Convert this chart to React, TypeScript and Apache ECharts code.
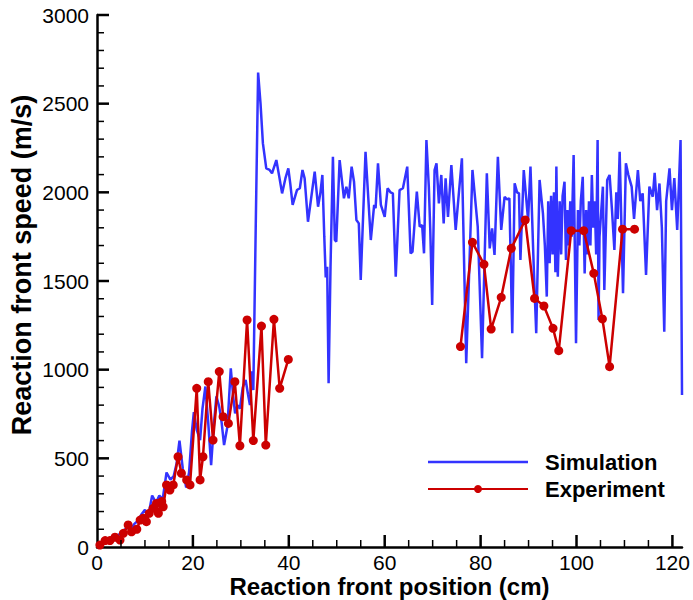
import React, { useEffect, useRef } from "react";
import * as echarts from "echarts";

const simX = [
  0.3, 1.0, 2.0, 3.0, 3.8, 4.6, 5.5, 6.3, 7.0, 7.8, 8.6, 9.3, 10.0, 10.7, 11.5, 12.3, 13.0, 13.7, 14.5, 15.3,
  16.0, 16.6, 17.2, 17.9, 18.6, 19.2, 19.8, 20.2, 20.8, 21.5, 22.0, 22.6, 23.2, 23.8, 24.4, 24.9, 25.5, 26.0,
  26.5, 27.2, 27.9, 28.4, 28.8, 29.3, 29.8, 30.4, 31.0, 31.5, 31.9, 32.3, 32.6, 33.1, 33.6, 34.1, 34.6, 35.3,
  36.0, 36.5, 37.4, 38.0, 38.6, 39.3, 39.9, 40.3, 40.8, 41.7, 42.3, 42.85, 43.3, 44.0, 44.7, 45.4, 46.1, 46.6,
  47.0, 47.4, 47.7, 48.0, 48.3, 48.7, 49.2, 49.6, 49.9, 50.6, 51.5, 52.0, 52.5, 53.1, 53.6, 54.1, 54.6, 55.0,
  56.0, 57.1, 57.8, 58.1, 58.6, 59.2, 60.0, 60.6, 61.2, 61.7, 62.3, 63.1, 63.8, 64.7, 65.4, 65.8, 66.7, 67.3,
  67.8, 68.2, 68.7, 69.2, 69.5, 69.9, 70.4, 70.8, 71.3, 71.8, 72.3, 72.7, 73.2, 73.9, 74.8, 76.1, 77.0, 78.3,
  79.4, 80.3, 81.3, 81.9, 82.4, 82.9, 83.6, 84.3, 85.0, 85.5, 86.0, 86.6, 87.1, 87.6, 88.0, 88.3, 89.0, 89.9,
  90.4, 91.1, 91.6, 92.3, 93.0, 93.4, 93.8, 94.1, 94.4, 94.7, 95.0, 95.3, 95.6, 95.8, 96.1, 96.5, 96.8, 97.1,
  97.5, 97.8, 98.1, 98.4, 98.7, 99.0, 99.4, 99.9, 100.3, 100.6, 100.9, 101.3, 101.7, 102.0, 102.3, 102.6,
  102.9, 103.2, 103.5, 103.8, 104.1, 104.4, 104.6, 104.8, 105.5, 105.8, 106.4, 106.9, 107.4, 107.9, 108.3,
  108.6, 109.0, 109.7, 110.3, 110.8, 111.5, 112.0, 112.8, 113.3, 113.8, 114.5, 115.2, 115.9, 116.3, 116.8,
  117.3, 117.8, 118.3, 118.7, 119.4, 119.9, 120.4, 121.0, 121.7, 122.0,
];
const simY = [
  10, 25, 40, 55, 45, 70, 90, 110, 95, 130, 150, 185, 210, 175, 290, 250, 290, 270, 420, 380,
  400, 470, 600, 440, 335, 420, 650, 760, 660, 603, 780, 905, 700, 462, 700, 850, 790, 700,
  575, 680, 1008, 850, 754, 800, 780, 900, 942, 860, 800, 990, 885, 1800, 2675, 2502, 2276, 2135,
  2126, 2107, 2182, 2090, 1994, 2080, 2135, 2050, 1929, 2013, 2023, 2126, 2079, 1834, 1975, 2117, 1919, 2000,
  2098, 1750, 1520, 1580, 923, 1581, 2201, 1731, 1722, 2182, 1966, 2032, 1966, 2145, 2060, 1844, 1825, 1506,
  2229, 1731, 1929, 1910, 2164, 1929, 1862, 2023, 2000, 1994, 1524, 2013, 2023, 2145, 1656, 1665, 2004, 1806,
  1816, 1656, 2295, 2032, 1790, 1365, 2126, 2164, 1938, 2098, 1825, 2079, 1862, 2154, 1788, 2192, 1036, 2126,
  1806, 1064, 2107, 1684, 1797, 1647, 2201, 1788, 1975, 1960, 1966, 1205, 2051, 2000, 1994, 1618, 2126, 1844,
  2145, 1562, 1205, 2070, 1881, 1700, 1412, 1950, 1600, 1980, 1650, 2000, 1550, 2145, 1524, 1950, 1650, 1980,
  2060, 1618, 1900, 1700, 1950, 1750, 2211, 1149, 1900, 1700, 1950, 2088, 1543, 1900, 1650, 1950,
  1700, 2098, 1800, 1950, 1650, 2295, 1280, 1750, 2032, 1449, 2070, 2098, 1900, 1675, 2000,
  1850, 2229, 1431, 2164, 2100, 2032, 1850, 2126, 1950, 1994, 1534, 2032, 1975, 2110, 1900,
  2050, 1800, 1214, 1950, 2135, 1900, 2080, 1788, 2295, 857,
];

const expX1 = [
  0.6, 1.7, 2.7, 3.75, 4.8, 5.5, 6.5, 7.2, 8.3, 9.0, 9.65, 10.3, 10.9, 11.7, 12.4, 12.8, 13.5, 13.8, 14.5, 15.2,
  15.9, 16.9, 17.6, 18.7, 19.4, 20.8, 21.5, 22.1, 23.2, 24.2, 25.5, 26.3, 27.4, 28.75, 29.8, 31.3, 32.6, 34.3,
  35.2, 36.9, 38.1, 39.9,
];
const expY1 = [
  11, 36, 36, 55, 39, 77, 124, 86, 100, 152, 162, 143, 190, 218, 246, 190, 256, 227, 350, 321,
  350, 509, 416, 378, 350, 895, 378, 509, 932, 603, 989, 735, 697, 932, 571, 1280, 600, 1246,
  575, 1284, 895, 1058,
];
const expX2 = [75.8, 78.3, 80.7, 82.2, 84.3, 86.4, 89.3, 91.25, 93.2, 95.1, 96.3, 98.9, 101.5, 103.6, 105.4, 106.9, 109.6, 112.1];
const expY2 = [1130, 1718, 1594, 1229, 1408, 1684, 1844, 1402, 1359, 1233, 1107, 1784, 1784, 1543, 1286, 1017, 1792, 1792];

const xMajorTicks = [20, 40, 60, 80, 100, 120];
const xMinorTicks = [5, 10, 15, 25, 30, 35, 45, 50, 55, 65, 70, 75, 85, 90, 95, 105, 110, 115];
const yMajorTicks = [500, 1000, 1500, 2000, 2500, 3000];
const yMinorTicks = [
  100, 200, 300, 400, 600, 700, 800, 900, 1100, 1200, 1300, 1400, 1600, 1700, 1800, 1900,
  2100, 2200, 2300, 2400, 2600, 2700, 2800, 2900,
];

const FONT = "'Liberation Sans', Arial, Helvetica, sans-serif";
const BLUE = "#3333ff";
const RED = "#cc0000";

const zip = (xs: number[], ys: number[]) => xs.map((x, i) => [x, ys[i]]);

// inward tick marks placed through the axes' scales as thin rect symbols
const tickSeries = (values: number[], dir: "x" | "y", len: number, width: number) => ({
  type: "scatter",
  silent: true,
  clip: false,
  z: 5,
  symbol: "rect",
  symbolSize: dir === "x" ? [width, len] : [len, width],
  symbolOffset: dir === "x" ? [0, -len / 2] : [len / 2, 0],
  itemStyle: { color: "#000", opacity: 1 },
  data: values.map((v) => (dir === "x" ? [v, 0] : [0, v])),
});

export default function App() {
  const ref = useRef<HTMLDivElement>(null);
  useEffect(() => {
    document.body.style.margin = "0";
    const chart = echarts.init(ref.current!, null, { renderer: "svg" });
    chart.setOption({
      animation: false,
      backgroundColor: "#fff",
      textStyle: { fontFamily: FONT },
      grid: { left: 97, right: 11, top: 15, bottom: 53, containLabel: false, outerBoundsMode: "none" },
      legend: {
        orient: "vertical",
        left: 422,
        top: 446,
        itemWidth: 100,
        itemHeight: 10,
        itemGap: 5,
        textStyle: { fontFamily: FONT, fontSize: 22, fontWeight: "bold", color: "#000", padding: [0, 0, 0, 12] },
        data: [
          { name: "Simulation", icon: "path://M0,0L100,0L100,2.5L0,2.5Z" },
          "Experiment",
        ],
      },
      xAxis: {
        type: "value",
        min: 0,
        max: 122,
        interval: 20,
        position: "bottom",
        name: "Reaction front position (cm)",
        nameLocation: "middle",
        nameGap: 27,
        nameMoveOverlap: false,
        nameTextStyle: { fontFamily: FONT, fontSize: 24, fontWeight: "bold", color: "#000" },
        axisLine: { show: true, onZero: false, lineStyle: { color: "#000", width: 2.5 } },
        splitLine: { show: false },
        axisTick: { show: false },
        axisLabel: { show: true, color: "#000", fontSize: 21, fontFamily: FONT, margin: 5, showMaxLabel: false },
      },
      yAxis: {
        type: "value",
        min: 0,
        max: 3000,
        interval: 500,
        name: "Reaction front speed (m/s)",
        nameLocation: "middle",
        nameGap: 62,
        nameMoveOverlap: false,
        nameTextStyle: { fontFamily: FONT, fontSize: 27, fontWeight: "bold", color: "#000", padding: [0, 0, 0, 32] },
        axisLine: { show: true, onZero: false, lineStyle: { color: "#000", width: 2.5 } },
        splitLine: { show: false },
        axisTick: { show: false },
        axisLabel: { color: "#000", fontSize: 21, fontFamily: FONT, margin: 8, formatter: (v: number) => String(v) },
      },
      series: [
        {
          name: "Simulation",
          type: "line",
          data: zip(simX, simY),
          symbol: "none",
          lineStyle: { color: BLUE, width: 2.5 },
          itemStyle: { color: BLUE },
          z: 2,
        },
        {
          name: "Experiment",
          type: "line",
          data: zip(expX1, expY1),
          symbol: "circle",
          symbolSize: 9,
          lineStyle: { color: RED, width: 2.5 },
          itemStyle: { color: RED },
          z: 3,
        },
        {
          name: "Experiment",
          type: "line",
          data: zip(expX2, expY2),
          symbol: "circle",
          symbolSize: 9,
          lineStyle: { color: RED, width: 2.5 },
          itemStyle: { color: RED },
          z: 3,
        },
        tickSeries(xMajorTicks, "x", 12, 2.5),
        tickSeries(xMinorTicks, "x", 7, 1.5),
        tickSeries(yMajorTicks, "y", 12, 2.5),
        tickSeries(yMinorTicks, "y", 7, 1.5),
      ],
    });
    return () => chart.dispose();
  }, []);
  return <div ref={ref} style={{ width: 693, height: 600 }} />;
}
